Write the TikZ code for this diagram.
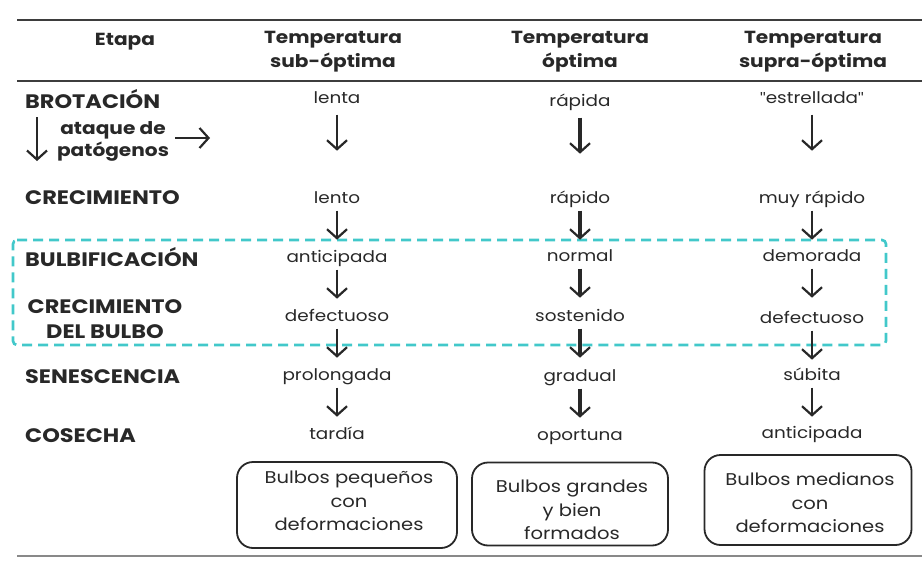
\documentclass[tikz,border=0pt]{standalone}
\usepackage{fontspec}
\setmainfont[FakeStretch=1.15]{Poppins}
\newfontfamily\quotefont{Liberation Sans}
\usetikzlibrary{arrows.meta}
\definecolor{ink}{RGB}{40,40,40}
\definecolor{teal}{RGB}{66,200,202}
\newcommand{\sq}{{\quotefont\symbol{34}}}
\tikzset{
  lab/.style={inner sep=0pt, font=\fontsize{19.5}{21}\selectfont\bfseries, text=ink},
  hdr/.style={inner sep=0pt, align=center, font=\fontsize{17.5}{24}\selectfont\bfseries, text=ink},
  val/.style={inner sep=0pt, font=\fontsize{16}{18}\selectfont, text=ink, text height=10pt, text depth=3pt},
  arr/.style={-{Straight Barb[length=9pt,width=20pt,line width=2.2pt]}, line width=2.2pt, ink},
  arrb/.style={arr, line width=3.2pt},
  resbox/.style={draw=ink, line width=1.8pt, rounded corners=16pt, inner sep=0pt},
  restext/.style={align=center, inner sep=0pt, font=\fontsize{17}{23.5}\selectfont, text=ink},
  rule/.style={line width=1.8pt, ink!90}
}
\begin{document}
\begin{tikzpicture}[x=1pt, y=-1pt]
\useasboundingbox (0,0) rectangle (922,562);
% table rules
\coordinate (tl) at (17,20);  \coordinate (tr) at (922,20);
\coordinate (ml) at (17,81);  \coordinate (mr) at (922,81);
\coordinate (bl) at (17,556); \coordinate (br) at (922,556);
\draw[rule] (tl) -- (tr);
\draw[rule] (ml) -- (mr);
\draw[line width=1.5pt, ink!55] (bl) -- (br);
% headers
\node[hdr] (h0) at (125,42) {Etapa};
\node[hdr] (h1) at (333,52) {Temperatura\\sub-óptima};
\node[hdr] (h2) at (580,52) {Temperatura\\óptima};
\node[hdr] (h3) at (813,52) {Temperatura\\supra-óptima};
% stage labels
\node[lab, anchor=west] (s1) at (25,99) {BROTACIÓN};
\node[lab, anchor=west] (s2) at (25,198) {CRECIMIENTO};
\node[lab, anchor=west] (s3) at (25,257) {BULBIFICACIÓN};
\node[lab, align=center, font=\fontsize{19.5}{25}\selectfont\bfseries] (s4) at (105,319) {CRECIMIENTO\\DEL BULBO};
\node[lab, anchor=west] (s5) at (25,377) {SENESCENCIA};
\node[lab, anchor=west] (s6) at (25,436) {COSECHA};
\node[lab, align=center, font=\fontsize{17.5}{22}\selectfont\bfseries] (pat) at (113,141) {ataque de\\patógenos};
% pathogen attack arrows
\coordinate (pd1) at (37,117); \coordinate (pd2) at (37,161);
\coordinate (pr1) at (175,138); \coordinate (pr2) at (210,138);
\draw[arr] (pd1) -- (pd2);
\draw[arr] (pr1) -- (pr2);
% column: sub-optimal
\node[val] (a1) at (337,100) {lenta};
\node[val] (a2) at (337,200) {lento};
\node[val] (a3) at (337,259) {anticipada};
\node[val] (a4) at (337,318) {defectuoso};
\node[val] (a5) at (337,377) {prolongada};
\node[val] (a6) at (337,436) {tardía};
% column: optimal
\node[val] (b1) at (580,103) {rápida};
\node[val] (b2) at (580,200) {rápido};
\node[val] (b3) at (580,258) {normal};
\node[val] (b4) at (580,318) {sostenido};
\node[val] (b5) at (580,378) {gradual};
\node[val] (b6) at (580,437) {oportuna};
% column: supra-optimal
\node[val] (c1) at (812,100) {\sq estrellada\sq};
\node[val] (c2) at (812,200) {muy rápido};
\node[val] (c3) at (812,258) {demorada};
\node[val] (c4) at (812,320) {defectuoso};
\node[val] (c5) at (812,377) {súbita};
\node[val] (c6) at (812,435) {anticipada};
% bulbing window
\draw[teal, line width=2.6pt, dash pattern=on 10pt off 6pt, rounded corners=4pt]
  (13,240) -- (886,240) -- (886,345) -- (13,345) -- cycle;
% stage arrows
\foreach \c/\s in {a/arr, b/arrb, c/arr}{
  \draw[\s] ([yshift=-8pt]\c1.south) -- ([yshift=-44pt]\c1.south);
  \foreach \i/\j in {2/3, 3/4, 4/5, 5/6}{
    \draw[\s, shorten >=-1pt] ([yshift=-4pt]\c\i.south) -- ([yshift=-32pt]\c\i.south);
  }
}
% outcomes
\node[resbox, minimum width=220pt, minimum height=86pt] (r1) at (347,505) {};
\node[restext] (r1t) at (349,501) {Bulbos pequeños\\con\\deformaciones};
\node[resbox, minimum width=196pt, minimum height=83pt] (r2) at (570,504) {};
\node[restext] (r2t) at (572,510) {Bulbos grandes\\y bien\\formados};
\node[resbox, minimum width=207pt, minimum height=90pt] (r3) at (808,500) {};
\node[restext] (r3t) at (810,503) {Bulbos medianos\\con\\deformaciones};
\end{tikzpicture}
\end{document}
